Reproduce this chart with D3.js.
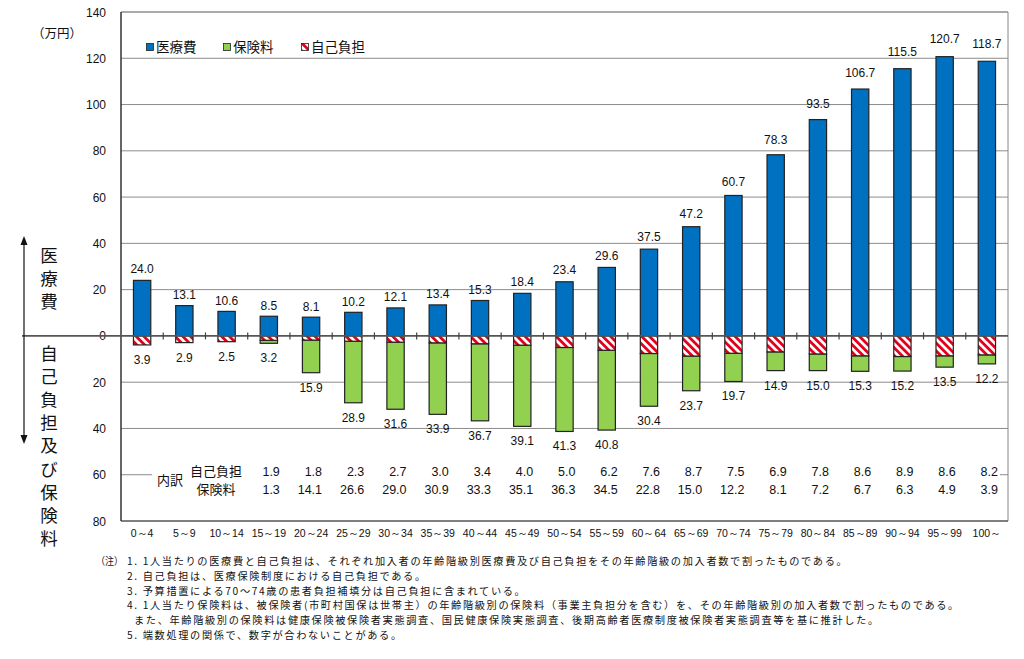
<!DOCTYPE html>
<html><head><meta charset="utf-8">
<script src="https://cdn.jsdelivr.net/npm/d3@7"></script>
<style>body{margin:0;background:#fff}svg{display:block}</style>
</head><body>
<svg id="c" width="1024" height="659"></svg>
<script>
const ages = ["0～4","5～9","10～14","15～19","20～24","25～29","30～34","35～39","40～44","45～49","50～54","55～59","60～64","65～69","70～74","75～79","80～84","85～89","90～94","95～99","100～"];
const medical = [24.0,13.1,10.6,8.5,8.1,10.2,12.1,13.4,15.3,18.4,23.4,29.6,37.5,47.2,60.7,78.3,93.5,106.7,115.5,120.7,118.7];
const selfPay = [3.9,2.9,2.5,1.9,1.8,2.3,2.7,3.0,3.4,4.0,5.0,6.2,7.6,8.7,7.5,6.9,7.8,8.6,8.9,8.6,8.2];
const premium = [0,0,0,1.3,14.1,26.6,29.0,30.9,33.3,35.1,36.3,34.5,22.8,15.0,12.2,8.1,7.2,6.7,6.3,4.9,3.9];
const totalLabels = [3.9,2.9,2.5,3.2,15.9,28.9,31.6,33.9,36.7,39.1,41.3,40.8,30.4,23.7,19.7,14.9,15.0,15.3,15.2,13.5,12.2];
const yTicks = [140,120,100,80,60,40,20,0,-20,-40,-60,-80];
const tableStart = 3; // breakdown table starts at 15～19
const legendItems = ["医療費","保険料","自己負担"];
const notes = [
 "1. 1人当たりの医療費と自己負担は、それぞれ加入者の年齢階級別医療費及び自己負担をその年齢階級の加入者数で割ったものである。",
 "2. 自己負担は、医療保険制度における自己負担である。",
 "3. 予算措置による70～74歳の患者負担補填分は自己負担に含まれている。",
 "4. 1人当たり保険料は、被保険者(市町村国保は世帯主）の年齢階級別の保険料（事業主負担分を含む）を、その年齢階級別の加入者数で割ったものである。",
 "また、年齢階級別の保険料は健康保険被保険者実態調査、国民健康保険実態調査、後期高齢者医療制度被保険者実態調査等を基に推計した。",
 "5. 端数処理の関係で、数字が合わないことがある。"
];

const svg = d3.select("#c");
const JP = "'Noto Sans CJK JP', sans-serif";
const NUM = "'Liberation Sans', Arial, sans-serif";
const L = 121, R = 1008, T = 12, B = 521;
const x = d3.scaleBand().domain(ages).range([L, R]).padding(0);
const y = d3.scaleLinear().domain([-80, 140]).range([B, T]);
const bw = x.bandwidth() * 0.41;
const BLUE = "#0070C0", GREEN = "#92D050", RED = "#E3001B", EDGE = "#222";

const defs = svg.append("defs");
const pat = defs.append("pattern").attr("id","hatch").attr("patternUnits","userSpaceOnUse")
  .attr("width",5.5).attr("height",5.5).attr("patternTransform","rotate(-45)");
pat.append("rect").attr("width",5.5).attr("height",5.5).attr("fill","#fff");
pat.append("rect").attr("width",2.8).attr("height",5.5).attr("fill",RED);

// gridlines
svg.append("g").selectAll("line").data(yTicks.filter(d => d !== 0 && d !== -80 && d !== 140)).join("line")
  .attr("x1", L).attr("x2", R).attr("y1", d => y(d)).attr("y2", d => y(d))
  .attr("stroke", "#8c8c8c").attr("stroke-width", 1);

// plot frame
svg.append("line").attr("x1",L).attr("x2",R).attr("y1",T).attr("y2",T).attr("stroke","#555");
svg.append("line").attr("x1",R).attr("x2",R).attr("y1",T).attr("y2",B).attr("stroke","#888");
svg.append("line").attr("x1",L).attr("x2",R).attr("y1",B).attr("y2",B).attr("stroke","#555").attr("stroke-width",1.5);
svg.append("line").attr("x1",L).attr("x2",L).attr("y1",T).attr("y2",B).attr("stroke","#333").attr("stroke-width",1.5);

// y axis tick labels
svg.append("g").selectAll("text").data(yTicks).join("text")
  .attr("x", 106).attr("y", d => y(d) + 4.5).attr("text-anchor","end")
  .attr("font-family", NUM).attr("font-size", 12).attr("fill","#111")
  .text(d => Math.abs(d));

// unit
svg.append("text").attr("x", 57).attr("y", 38).attr("text-anchor","middle")
  .attr("font-family", JP).attr("font-size", 12.5).attr("fill","#111").text("（万円）");

// white box for the breakdown table (hides the 60 gridline)
svg.append("rect").attr("x", 152).attr("y", 460).attr("width", 848).attr("height", 40).attr("fill","#fff");

// bars
const g = svg.append("g");
ages.forEach((a, i) => {
  const cx = x(a) + x.bandwidth() / 2;
  g.append("rect").attr("x", cx - bw/2).attr("y", y(medical[i])).attr("width", bw)
    .attr("height", y(0) - y(medical[i])).attr("fill", BLUE).attr("stroke", EDGE).attr("stroke-width", 1.2);
  if (premium[i] > 0) {
    g.append("rect").attr("x", cx - bw/2).attr("y", y(-selfPay[i])).attr("width", bw)
      .attr("height", y(-(selfPay[i] + premium[i])) - y(-selfPay[i]))
      .attr("fill", GREEN).attr("stroke", EDGE).attr("stroke-width", 1.2);
  }
  g.append("rect").attr("x", cx - bw/2).attr("y", y(0)).attr("width", bw)
    .attr("height", y(-selfPay[i]) - y(0))
    .attr("fill", "url(#hatch)").attr("stroke", EDGE).attr("stroke-width", 1.2);
  g.append("text").attr("x", cx).attr("y", y(medical[i]) - 6 - medical[i] * 0.06)
    .attr("text-anchor","middle").attr("font-family", NUM).attr("font-size", 12).attr("fill","#111")
    .text(medical[i].toFixed(1));
  g.append("text").attr("x", cx).attr("y", y(-(selfPay[i] + premium[i])) + 19)
    .attr("text-anchor","middle").attr("font-family", NUM).attr("font-size", 12).attr("fill","#111")
    .text(totalLabels[i].toFixed(1));
});

// zero line
svg.append("line").attr("x1", 22).attr("x2", R).attr("y1", y(0)).attr("y2", y(0))
  .attr("stroke", "#555").attr("stroke-width", 1.6);
svg.append("g").selectAll("line").data(ages.slice(1)).join("line")
  .attr("x1", d => x(d)).attr("x2", d => x(d)).attr("y1", y(0) - 3.5).attr("y2", y(0) + 3.5)
  .attr("stroke", "#444").attr("stroke-width", 1.2);

// x labels
svg.append("g").selectAll("text").data(ages).join("text")
  .attr("x", d => x(d) + x.bandwidth()/2).attr("y", 537).attr("text-anchor","middle")
  .attr("font-family", NUM).attr("font-size", 10.5).attr("fill","#111").text(d => d);

// breakdown table
const tbl = svg.append("g").attr("font-size", 13).attr("fill","#111");
tbl.append("text").attr("x", 170).attr("y", 485).attr("text-anchor","middle").attr("font-family", JP).text("内訳");
tbl.append("text").attr("x", 216).attr("y", 476).attr("text-anchor","middle").attr("font-family", JP).text("自己負担");
tbl.append("text").attr("x", 216).attr("y", 494).attr("text-anchor","middle").attr("font-family", JP).text("保険料");
ages.slice(tableStart).forEach((a, k) => {
  const i = k + tableStart;
  const rx = x(a) + x.bandwidth()/2 + 11;
  tbl.append("text").attr("x", rx).attr("y", 476).attr("text-anchor","end").attr("font-family", NUM).attr("font-size", 12.5).text(selfPay[i].toFixed(1));
  tbl.append("text").attr("x", rx).attr("y", 494).attr("text-anchor","end").attr("font-family", NUM).attr("font-size", 12.5).text(premium[i].toFixed(1));
});

// legend
const lg = svg.append("g");
const lx = [150, 227, 305];
const lfill = [BLUE, GREEN, "url(#hatch)"];
legendItems.forEach((t, i) => {
  lg.append("rect").attr("x", lx[i] - 3.5).attr("y", 43.5).attr("width", 7).attr("height", 7)
    .attr("fill", lfill[i]).attr("stroke", "#222").attr("stroke-width", 0.8);
  lg.append("text").attr("x", lx[i] + 6).attr("y", 52).attr("font-family", JP).attr("font-size", 13.5).attr("fill","#111").text(t);
});

// left arrow & vertical titles
svg.append("line").attr("x1", 24).attr("x2", 24).attr("y1", 242).attr("y2", 438).attr("stroke","#111").attr("stroke-width",1.2);
svg.append("path").attr("d","M24,236 L20.5,245 L27.5,245 Z").attr("fill","#111");
svg.append("path").attr("d","M24,444 L20.5,435 L27.5,435 Z").attr("fill","#111");
const vt = svg.append("g").attr("font-family", JP).attr("font-size", 17.5).attr("fill","#111").attr("text-anchor","middle");
Array.from("医療費").forEach((ch, k) => vt.append("text").attr("x", 49).attr("y", 262 + k*23).text(ch));
Array.from("自己負担及び保険料").forEach((ch, k) => vt.append("text").attr("x", 49).attr("y", 360 + k*23.1).text(ch));

// notes
const nt = svg.append("g").attr("font-family", JP).attr("font-size", 10.2).attr("letter-spacing", 1.65).attr("fill","#111");
nt.append("text").attr("x", 96).attr("y", 565).attr("letter-spacing", 0).attr("textLength", 27).attr("lengthAdjust","spacingAndGlyphs").text("（注）");
const nx = [127,127,127,127,134,127];
notes.forEach((t, k) => nt.append("text").attr("x", nx[k]).attr("y", 565 + k*14.8).text(t));
</script>
</body></html>
